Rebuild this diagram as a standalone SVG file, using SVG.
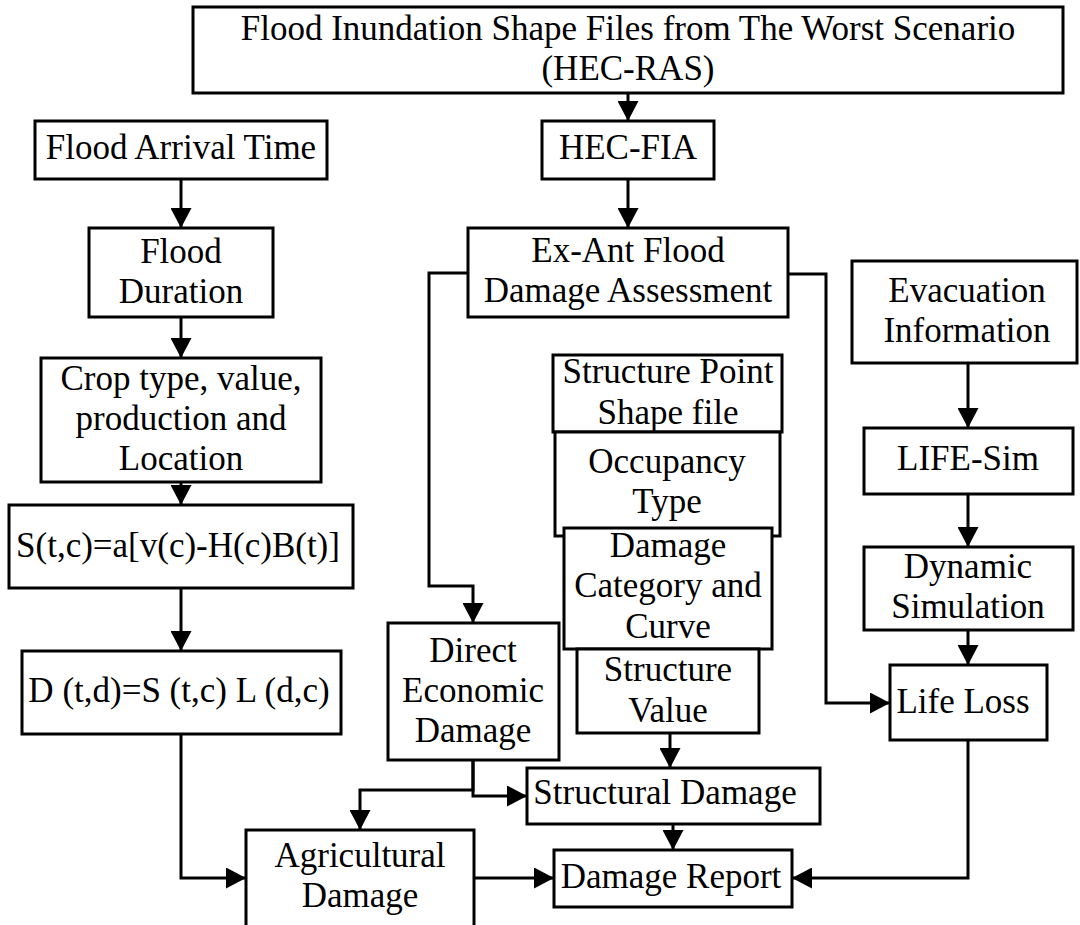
<svg xmlns="http://www.w3.org/2000/svg" width="1080" height="925" viewBox="0 0 1080 925">
<style>
.b{fill:#fff;stroke:#000;stroke-width:3}
.t{font-family:"Liberation Serif","Times New Roman",serif;font-size:35px;fill:#000;text-anchor:middle}
.c{fill:none;stroke:#000;stroke-width:3;stroke-linejoin:miter;marker-end:url(#ah)}
</style>
<defs>
<marker id="ah" markerUnits="userSpaceOnUse" viewBox="0 0 20 21" markerWidth="20" markerHeight="21" refX="20" refY="10.5" orient="auto">
<path d="M0,0 L20,10.5 L0,21 Z" fill="#000"/>
</marker>
</defs>
<rect width="1080" height="925" fill="#fff"/>
<g id="connectors">
<path class="c" d="M628,93 V121"/>
<path class="c" d="M628,179 V228"/>
<path class="c" d="M181,179 V228"/>
<path class="c" d="M181,317 V358"/>
<path class="c" d="M181,482 V505"/>
<path class="c" d="M181,588 V651"/>
<path class="c" d="M181,734 V878 H246"/>
<path class="c" d="M468,273 H429 V586 H473 V623"/>
<path class="c" d="M788,274 H826 V703 H890"/>
<path class="c" d="M968,363 V428"/>
<path class="c" d="M968,494 V547"/>
<path class="c" d="M968,630 V665"/>
<path class="c" d="M968,740 V878 H792"/>
<path class="c" d="M473,760 V790 H360 V830"/>
<path class="c" d="M473,760 V796 H527"/>
<path class="c" d="M670,733 V768"/>
<path class="c" d="M673,824 V850"/>
<path class="c" d="M474,878 H554"/>
</g>
<g id="n-top"><rect class="b" x="193" y="7" width="870" height="86"/><text class="t" x="628" y="40">Flood Inundation Shape Files from The Worst Scenario</text><text class="t" x="628" y="80">(HEC-RAS)</text></g>
<g id="n-arrival"><rect class="b" x="35" y="121" width="292" height="58"/><text class="t" x="181" y="159">Flood Arrival Time</text></g>
<g id="n-hecfia"><rect class="b" x="542" y="121" width="172" height="58"/><text class="t" x="628" y="159">HEC-FIA</text></g>
<g id="n-duration"><rect class="b" x="89" y="228" width="184" height="89"/><text class="t" x="181" y="263">Flood</text><text class="t" x="181" y="303">Duration</text></g>
<g id="n-exant"><rect class="b" x="468" y="228" width="320" height="89"/><text class="t" x="628" y="262">Ex-Ant Flood</text><text class="t" x="628" y="302">Damage Assessment</text></g>
<g id="n-evac"><rect class="b" x="852" y="261" width="225" height="102"/><text class="t" x="967" y="302">Evacuation</text><text class="t" x="967" y="342">Information</text></g>
<g id="n-crop"><rect class="b" x="41" y="358" width="280" height="124"/><text class="t" x="181" y="390">Crop type, value,</text><text class="t" x="181" y="430">production and</text><text class="t" x="181" y="470">Location</text></g>
<g id="n-structpoint"><rect class="b" x="553" y="355" width="229" height="77"/><text class="t" x="668" y="383">Structure Point</text><text class="t" x="668" y="424">Shape file</text></g>
<g id="n-occupancy"><rect class="b" x="555" y="432" width="225" height="104"/><text class="t" x="667" y="473">Occupancy</text><text class="t" x="667" y="513">Type</text></g>
<g id="n-lifesim"><rect class="b" x="864" y="428" width="209" height="66"/><text class="t" x="968" y="470">LIFE-Sim</text></g>
<g id="n-s"><rect class="b" x="9" y="505" width="344" height="83"/><text class="t" x="178" y="557">S(t,c)=a[v(c)-H(c)B(t)]</text></g>
<g id="n-damagecat"><rect class="b" x="564" y="528" width="208" height="121"/><text class="t" x="668" y="557">Damage</text><text class="t" x="668" y="597">Category and</text><text class="t" x="668" y="638">Curve</text></g>
<g id="n-dynamic"><rect class="b" x="864" y="547" width="209" height="83"/><text class="t" x="968" y="578">Dynamic</text><text class="t" x="968" y="618">Simulation</text></g>
<g id="n-direct"><rect class="b" x="388" y="623" width="171" height="137"/><text class="t" x="473" y="662">Direct</text><text class="t" x="473" y="702">Economic</text><text class="t" x="473" y="742">Damage</text></g>
<g id="n-d"><rect class="b" x="22" y="651" width="319" height="83"/><text class="t" x="179" y="702">D (t,d)=S (t,c) L (d,c)</text></g>
<g id="n-structvalue"><rect class="b" x="577" y="649" width="182" height="84"/><text class="t" x="668" y="681">Structure</text><text class="t" x="668" y="722">Value</text></g>
<g id="n-lifeloss"><rect class="b" x="890" y="665" width="157" height="75"/><text class="t" x="963" y="713">Life Loss</text></g>
<g id="n-structdamage"><rect class="b" x="527" y="768" width="293" height="56"/><text class="t" x="665" y="804">Structural Damage</text></g>
<g id="n-agri"><rect class="b" x="246" y="830" width="228" height="100"/><text class="t" x="360" y="867">Agricultural</text><text class="t" x="360" y="907">Damage</text></g>
<g id="n-report"><rect class="b" x="554" y="850" width="238" height="57"/><text class="t" x="671" y="888">Damage Report</text></g>
</svg>
